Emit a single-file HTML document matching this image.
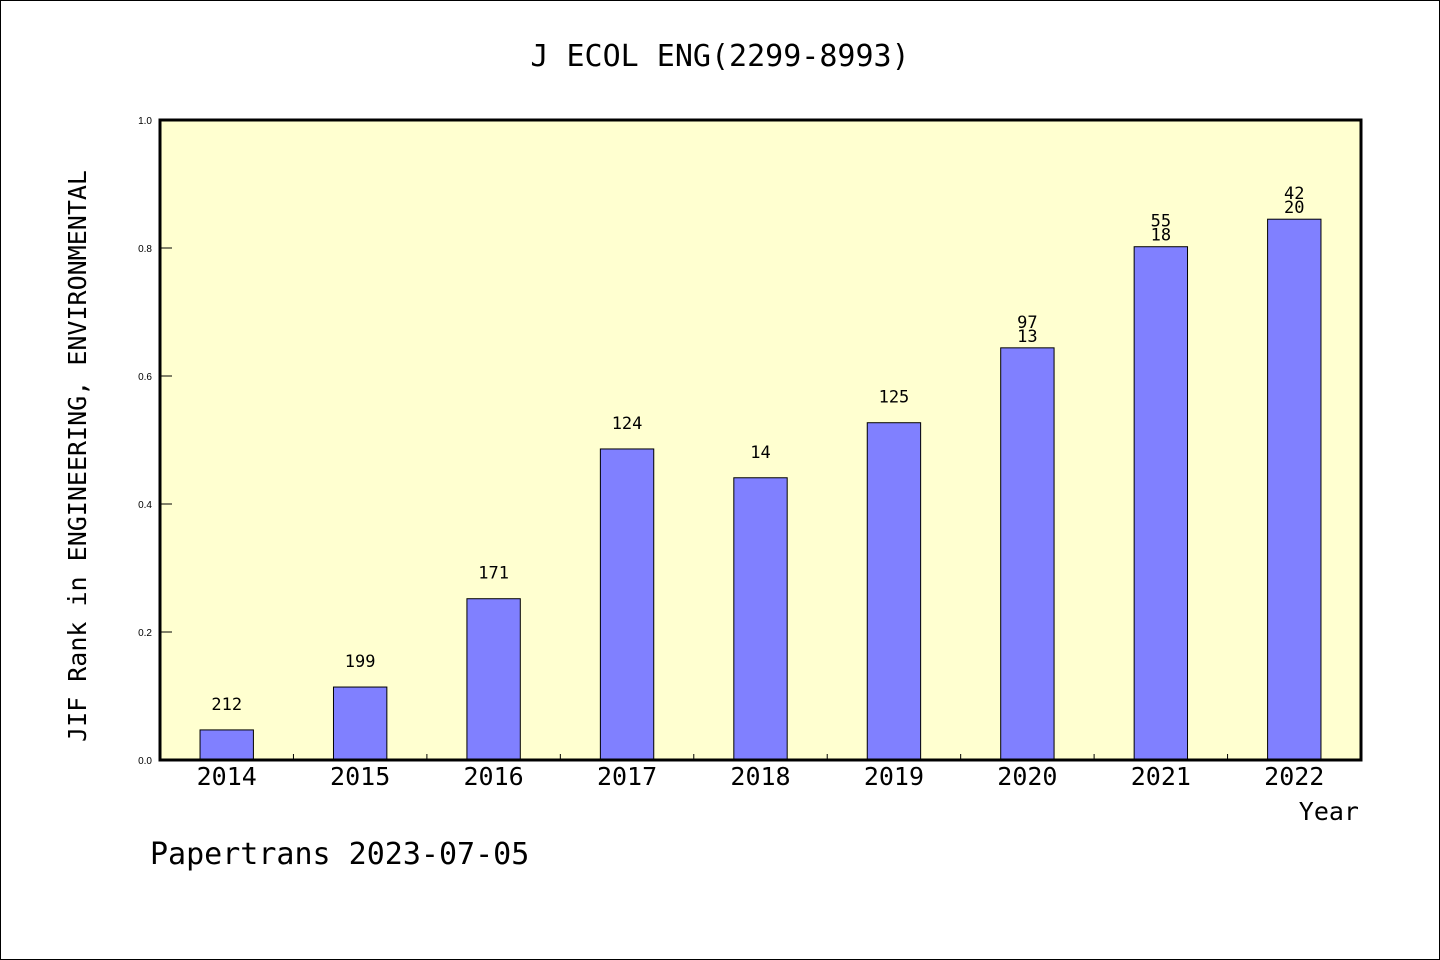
<!DOCTYPE html>
<html><head><meta charset="utf-8"><style>
html,body{margin:0;padding:0;background:#fff}
svg{display:block;font-family:"WenQuanYi Zen Hei","DejaVu Sans Mono","Liberation Mono",monospace}
</style></head><body>
<svg id="chart" width="1440" height="960">
<rect x="0.5" y="0.5" width="1439" height="959" fill="#fff" stroke="#000"/>
<text x="720" y="66" text-anchor="middle" font-size="30">J ECOL ENG(2299-8993)</text>
<rect x="160" y="120" width="1201" height="640" fill="#ffffd0"/>
<g id="bars"></g>
<rect x="160" y="120" width="1201" height="640" fill="none" stroke="#000" stroke-width="3"/>
<text transform="translate(86,456) rotate(-90)" text-anchor="middle" font-size="25">JIF Rank in ENGINEERING, ENVIRONMENTAL</text>
<text x="1359" y="820" text-anchor="end" font-size="25">Year</text>
<text x="150" y="864" font-size="30">Papertrans 2023-07-05</text>
</svg>
<script>
const categories=["2014","2015","2016","2017","2018","2019","2020","2021","2022"];
const values=[0.047,0.114,0.252,0.486,0.441,0.527,0.644,0.802,0.845];
const labelTop=["212","199","171","124","14","125","97","55","42"];
const labelBottom=["","","","","","","13","18","20"];
const yTicks=[0,0.2,0.4,0.6,0.8,1.0];
const yTickLabels=["0.0","0.2","0.4","0.6","0.8","1.0"];
const NS="http://www.w3.org/2000/svg";
const L=160,R=1361,T=120,B=760;
const step=(R-L)/categories.length;
const xc=i=>L+step*(i+0.5);
const y=v=>B-v*(B-T);
const g=document.getElementById('bars');
function mk(tag,attrs,parent){const e=document.createElementNS(NS,tag);for(const k in attrs)e.setAttribute(k,attrs[k]);(parent||g).appendChild(e);return e;}
const bw=step*0.4;
categories.forEach((c,i)=>{
  const r=mk('rect',{x:xc(i)-bw/2,y:y(values[i]),width:bw,height:B-y(values[i]),fill:'#8080ff',stroke:'#000','stroke-width':1});
  
  
  const top=y(values[i]);
  if(labelBottom[i]){
    const t1=mk('text',{x:xc(i),y:top-20,'text-anchor':'middle','font-size':17});t1.textContent=labelTop[i];
    
    
    const t2=mk('text',{x:xc(i),y:top-6,'text-anchor':'middle','font-size':17});t2.textContent=labelBottom[i];
    
    
  } else {
    const t1=mk('text',{x:xc(i),y:top-20,'text-anchor':'middle','font-size':17});t1.textContent=labelTop[i];
    
    
  }
  const xl=mk('text',{x:xc(i),y:785,'text-anchor':'middle','font-size':25});xl.textContent=c;
  
  
  if(i>0){
    const tk=mk('line',{x1:L+step*i,x2:L+step*i,y1:B,y2:B-6,stroke:'#000','stroke-width':1});
    
    
  }
});
yTicks.forEach((v,i)=>{
  const tk=mk('line',{x1:L,x2:L+12,y1:y(v),y2:y(v),stroke:'#000','stroke-width':1});
  
  
  const t=mk('text',{x:152,y:y(v)+4,'text-anchor':'end','font-size':10,'font-family':'Liberation Sans, sans-serif'});t.textContent=yTickLabels[i];
  
  
});
</script>
</body></html>
